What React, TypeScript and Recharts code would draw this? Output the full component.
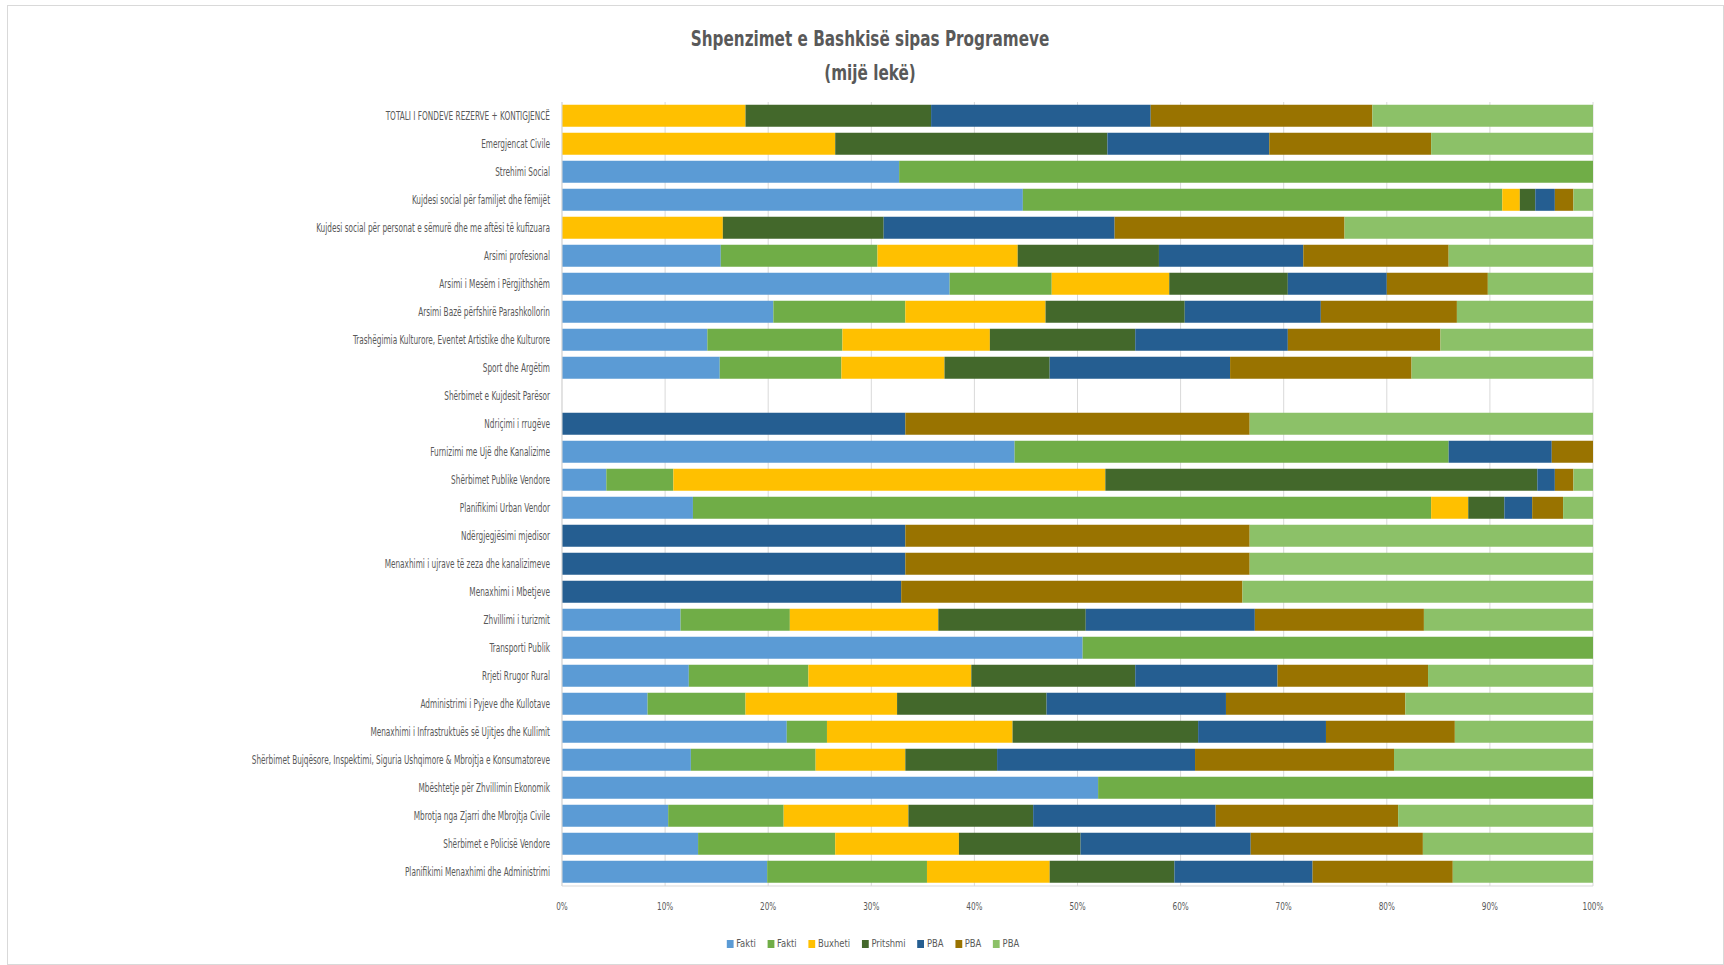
import { Bar, BarChart, CartesianGrid, XAxis, YAxis } from "recharts";

// Programs, top to bottom as drawn.
const programs = [
  "TOTALI I FONDEVE REZERVE + KONTIGJENCË",
  "Emergjencat Civile",
  "Strehimi Social",
  "Kujdesi social për familjet dhe fëmijët",
  "Kujdesi social për personat e sëmurë dhe me aftësi të kufizuara",
  "Arsimi profesional",
  "Arsimi i Mesëm i Përgjithshëm",
  "Arsimi Bazë përfshirë Parashkollorin",
  "Trashëgimia Kulturore, Eventet Artistike dhe Kulturore",
  "Sport dhe Argëtim",
  "Shërbimet e Kujdesit Parësor",
  "Ndriçimi i rrugëve",
  "Furnizimi me Ujë dhe Kanalizime",
  "Shërbimet Publike Vendore",
  "Planifikimi Urban Vendor",
  "Ndërgjegjësimi mjedisor",
  "Menaxhimi i ujrave të zeza dhe kanalizimeve",
  "Menaxhimi i Mbetjeve",
  "Zhvillimi i turizmit",
  "Transporti Publik",
  "Rrjeti Rrugor Rural",
  "Administrimi i Pyjeve dhe Kullotave",
  "Menaxhimi i Infrastruktuës së Ujitjes dhe Kullimit",
  "Shërbimet Bujqësore, Inspektimi, Siguria Ushqimore & Mbrojtja e Konsumatoreve",
  "Mbështetje për Zhvillimin Ekonomik",
  "Mbrotja nga Zjarri dhe Mbrojtja Civile",
  "Shërbimet e Policisë Vendore",
  "Planifikimi Menaxhimi dhe Administrimi",
];

// shares (%), one value per program
const fakti1 = [0, 0, 32.7, 44.7, 0, 15.4, 37.6, 20.5, 14.1, 15.3, 0, 0, 43.9, 4.3, 12.7, 0, 0, 0, 11.5, 50.5, 12.3, 8.3, 21.8, 12.5, 52.0, 10.3, 13.2, 19.9];
const fakti2 = [0, 0, 67.3, 46.5, 0, 15.2, 9.9, 12.8, 13.1, 11.8, 0, 0, 42.1, 6.5, 71.6, 0, 0, 0, 10.6, 49.5, 11.6, 9.5, 3.9, 12.1, 48.0, 11.2, 13.3, 15.5];
const buxheti = [17.8, 26.5, 0, 1.7, 15.6, 13.6, 11.4, 13.6, 14.3, 10.0, 0, 0, 0, 41.9, 3.6, 0, 0, 0, 14.4, 0, 15.8, 14.7, 18.0, 8.7, 0, 12.1, 12.0, 11.9];
const pritshmi = [18.0, 26.4, 0, 1.5, 15.6, 13.7, 11.5, 13.5, 14.1, 10.2, 0, 0, 0, 41.9, 3.5, 0, 0, 0, 14.3, 0, 15.9, 14.5, 18.0, 8.9, 0, 12.1, 11.8, 12.1];
const pba1 = [21.3, 15.7, 0, 1.9, 22.4, 14.0, 9.6, 13.2, 14.8, 17.5, 0, 33.3, 10.0, 1.7, 2.7, 33.3, 33.3, 32.9, 16.4, 0, 13.8, 17.4, 12.4, 19.2, 0, 17.7, 16.5, 13.4];
const pba2 = [21.5, 15.7, 0, 1.8, 22.3, 14.1, 9.8, 13.2, 14.8, 17.6, 0, 33.4, 4.0, 1.8, 3.0, 33.4, 33.4, 33.1, 16.4, 0, 14.6, 17.4, 12.5, 19.3, 0, 17.7, 16.7, 13.6];
const pba3 = [21.4, 15.7, 0, 1.9, 24.1, 14.0, 10.2, 13.2, 14.8, 17.6, 0, 33.3, 0, 1.9, 2.9, 33.3, 33.3, 34.0, 16.4, 0, 16.0, 18.2, 13.4, 19.3, 0, 18.9, 16.5, 13.6];

const xTicks = [0, 0.1, 0.2, 0.3, 0.4, 0.5, 0.6, 0.7, 0.8, 0.9, 1];

const series = [
  { key: "fakti1", name: "Fakti", color: "#5B9BD5" },
  { key: "fakti2", name: "Fakti", color: "#70AD47" },
  { key: "buxheti", name: "Buxheti", color: "#FFC000" },
  { key: "pritshmi", name: "Pritshmi", color: "#43682B" },
  { key: "pba1", name: "PBA", color: "#255E91" },
  { key: "pba2", name: "PBA", color: "#997300" },
  { key: "pba3", name: "PBA", color: "#8CC168" },
];

const data = programs.map((name, i) => ({
  name,
  fakti1: fakti1[i],
  fakti2: fakti2[i],
  buxheti: buxheti[i],
  pritshmi: pritshmi[i],
  pba1: pba1[i],
  pba2: pba2[i],
  pba3: pba3[i],
}));

const FONT = '"Liberation Sans Narrow", "DejaVu Sans Condensed", "Arial Narrow", sans-serif';
const TEXT = "#595959";

// no narrow Calibri here, so squeeze the condensed face horizontally
function NarrowTick({ x, y, payload, anchor, dy, size, sx, fmt }: any) {
  return (
    <g transform={`translate(${x},${y})`}>
      <text
        transform={`scale(${sx},1)`}
        textAnchor={anchor}
        dy={dy}
        fontSize={size}
        fill={TEXT}
        fontFamily={FONT}
      >
        {fmt ? fmt(payload.value) : payload.value}
      </text>
    </g>
  );
}

const pct = (v: number) => `${Math.round(v * 100)}%`;

export default function App() {
  return (
    <div
      style={{
        position: "absolute",
        left: 0,
        top: 0,
        width: 1724,
        height: 965,
        background: "#fff",
        fontFamily: FONT,
      }}
    >
      <div
        style={{
          position: "absolute",
          left: 7,
          top: 5,
          width: 1717,
          height: 960,
          border: "1px solid #D9D9D9",
          boxSizing: "border-box",
        }}
      />
      <div
        style={{
          position: "absolute",
          left: 570,
          width: 600,
          top: 22,
          textAlign: "center",
          color: TEXT,
          fontWeight: "bold",
          fontSize: 22,
          lineHeight: "34px",
          transform: "scaleX(0.77)",
        }}
      >
        <div>Shpenzimet e Bashkisë sipas Programeve</div>
        <div>(mijë lekë)</div>
      </div>

      <BarChart
        width={1724}
        height={965}
        data={data}
        layout="vertical"
        stackOffset="expand"
        barCategoryGap="10%"
        margin={{ top: 102, right: 131, bottom: 49, left: 0 }}
        style={{ position: "absolute", left: 0, top: 0 }}
      >
        <CartesianGrid horizontal={false} stroke="#D9D9D9" />
        <XAxis
          type="number"
          domain={[0, 1]}
          ticks={xTicks}
          tick={<NarrowTick anchor="middle" dy={12} size={11} sx={0.74} fmt={pct} />}
          tickLine={false}
          axisLine={{ stroke: "#D9D9D9" }}
          tickMargin={6}
          height={30}
        />
        <YAxis
          type="category"
          dataKey="name"
          width={562}
          interval={0}
          tick={<NarrowTick anchor="end" dy={4} size={12} sx={0.68} />}
          tickLine={false}
          axisLine={{ stroke: "#D9D9D9" }}
          tickMargin={6}
        />
        {series.map((s) => (
          <Bar
            key={s.key}
            dataKey={s.key}
            name={s.name}
            stackId="a"
            fill={s.color}
            isAnimationActive={false}
          />
        ))}
      </BarChart>

      <div
        style={{
          position: "absolute",
          left: 0,
          width: 1746,
          top: 937,
          display: "flex",
          justifyContent: "center",
          gap: 14,
          fontSize: 11,
          color: TEXT,
          transform: "scaleX(0.85)",
        }}
      >
        {series.map((s, i) => (
          <div key={i} style={{ display: "flex", alignItems: "center", gap: 3 }}>
            <span style={{ width: 8, height: 8, background: s.color, display: "inline-block" }} />
            <span>{s.name}</span>
          </div>
        ))}
      </div>
    </div>
  );
}
